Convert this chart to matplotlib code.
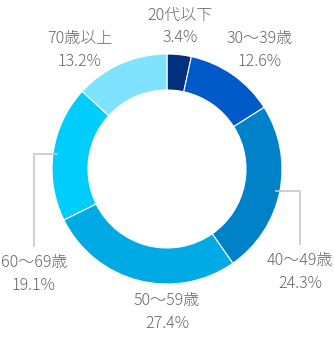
import numpy as np
import matplotlib
matplotlib.use("Agg")
import matplotlib.pyplot as plt

plt.rcParams['font.family'] = ['Noto Sans CJK JP', 'DejaVu Sans']

categories = ["20代以下", "30〜39歳", "40〜49歳", "50〜59歳", "60〜69歳", "70歳以上"]
values = [3.4, 12.6, 24.3, 27.4, 19.1, 13.2]
colors = ["#00307e", "#005ac8", "#0082c8", "#00abe5", "#00cdfc", "#7fe3ff"]

W, H = 334, 340
fig = plt.figure(figsize=(W / 100, H / 100), dpi=100)
ax = fig.add_axes([0, 0, 1, 1])
ax.set_xlim(0, W)
ax.set_ylim(0, H)
ax.set_aspect('equal')
ax.axis('off')

cx, cy = 167, H - 169
R = 115
width = 36
ax.pie(values, colors=colors, startangle=90, counterclock=False,
       center=(cx, cy), radius=R,
       wedgeprops=dict(width=width, edgecolor='white', linewidth=0.8))
ax.set_xlim(0, W)
ax.set_ylim(0, H)

# label positions (pixels from top-left)
label_pos = {
    0: (180, 15),
    1: (260, 39),
    2: (300, 260),
    3: (167, 300),
    4: (34, 262),
    5: (80, 39),
}
tc = "#666666"
for i, (cat, v) in enumerate(zip(categories, values)):
    x, y = label_pos[i]
    ax.text(x, H - y, cat, ha='center', va='center', fontsize=11.5, color=tc, fontweight='light')
    ax.text(x, H - y - 23, f"{v}%", ha='center', va='center', fontsize=11.5, color=tc, fontweight='light')

# leader lines for 40-49 and 60-69
cum = np.cumsum([0] + values)
for i, lx, ly in [(2, 300, 245), (4, 34, 247)]:
    mid = (cum[i] + cum[i + 1]) / 2 / sum(values) * 360
    theta = np.deg2rad(90 - mid)
    r = R - 5
    px, py = cx + r * np.cos(theta), cy + r * np.sin(theta)
    ax.plot([px, lx, lx], [py, py, H - ly], color="#c8c8c8", lw=1.2, solid_capstyle='butt')

fig.savefig("out.png", dpi=100)
